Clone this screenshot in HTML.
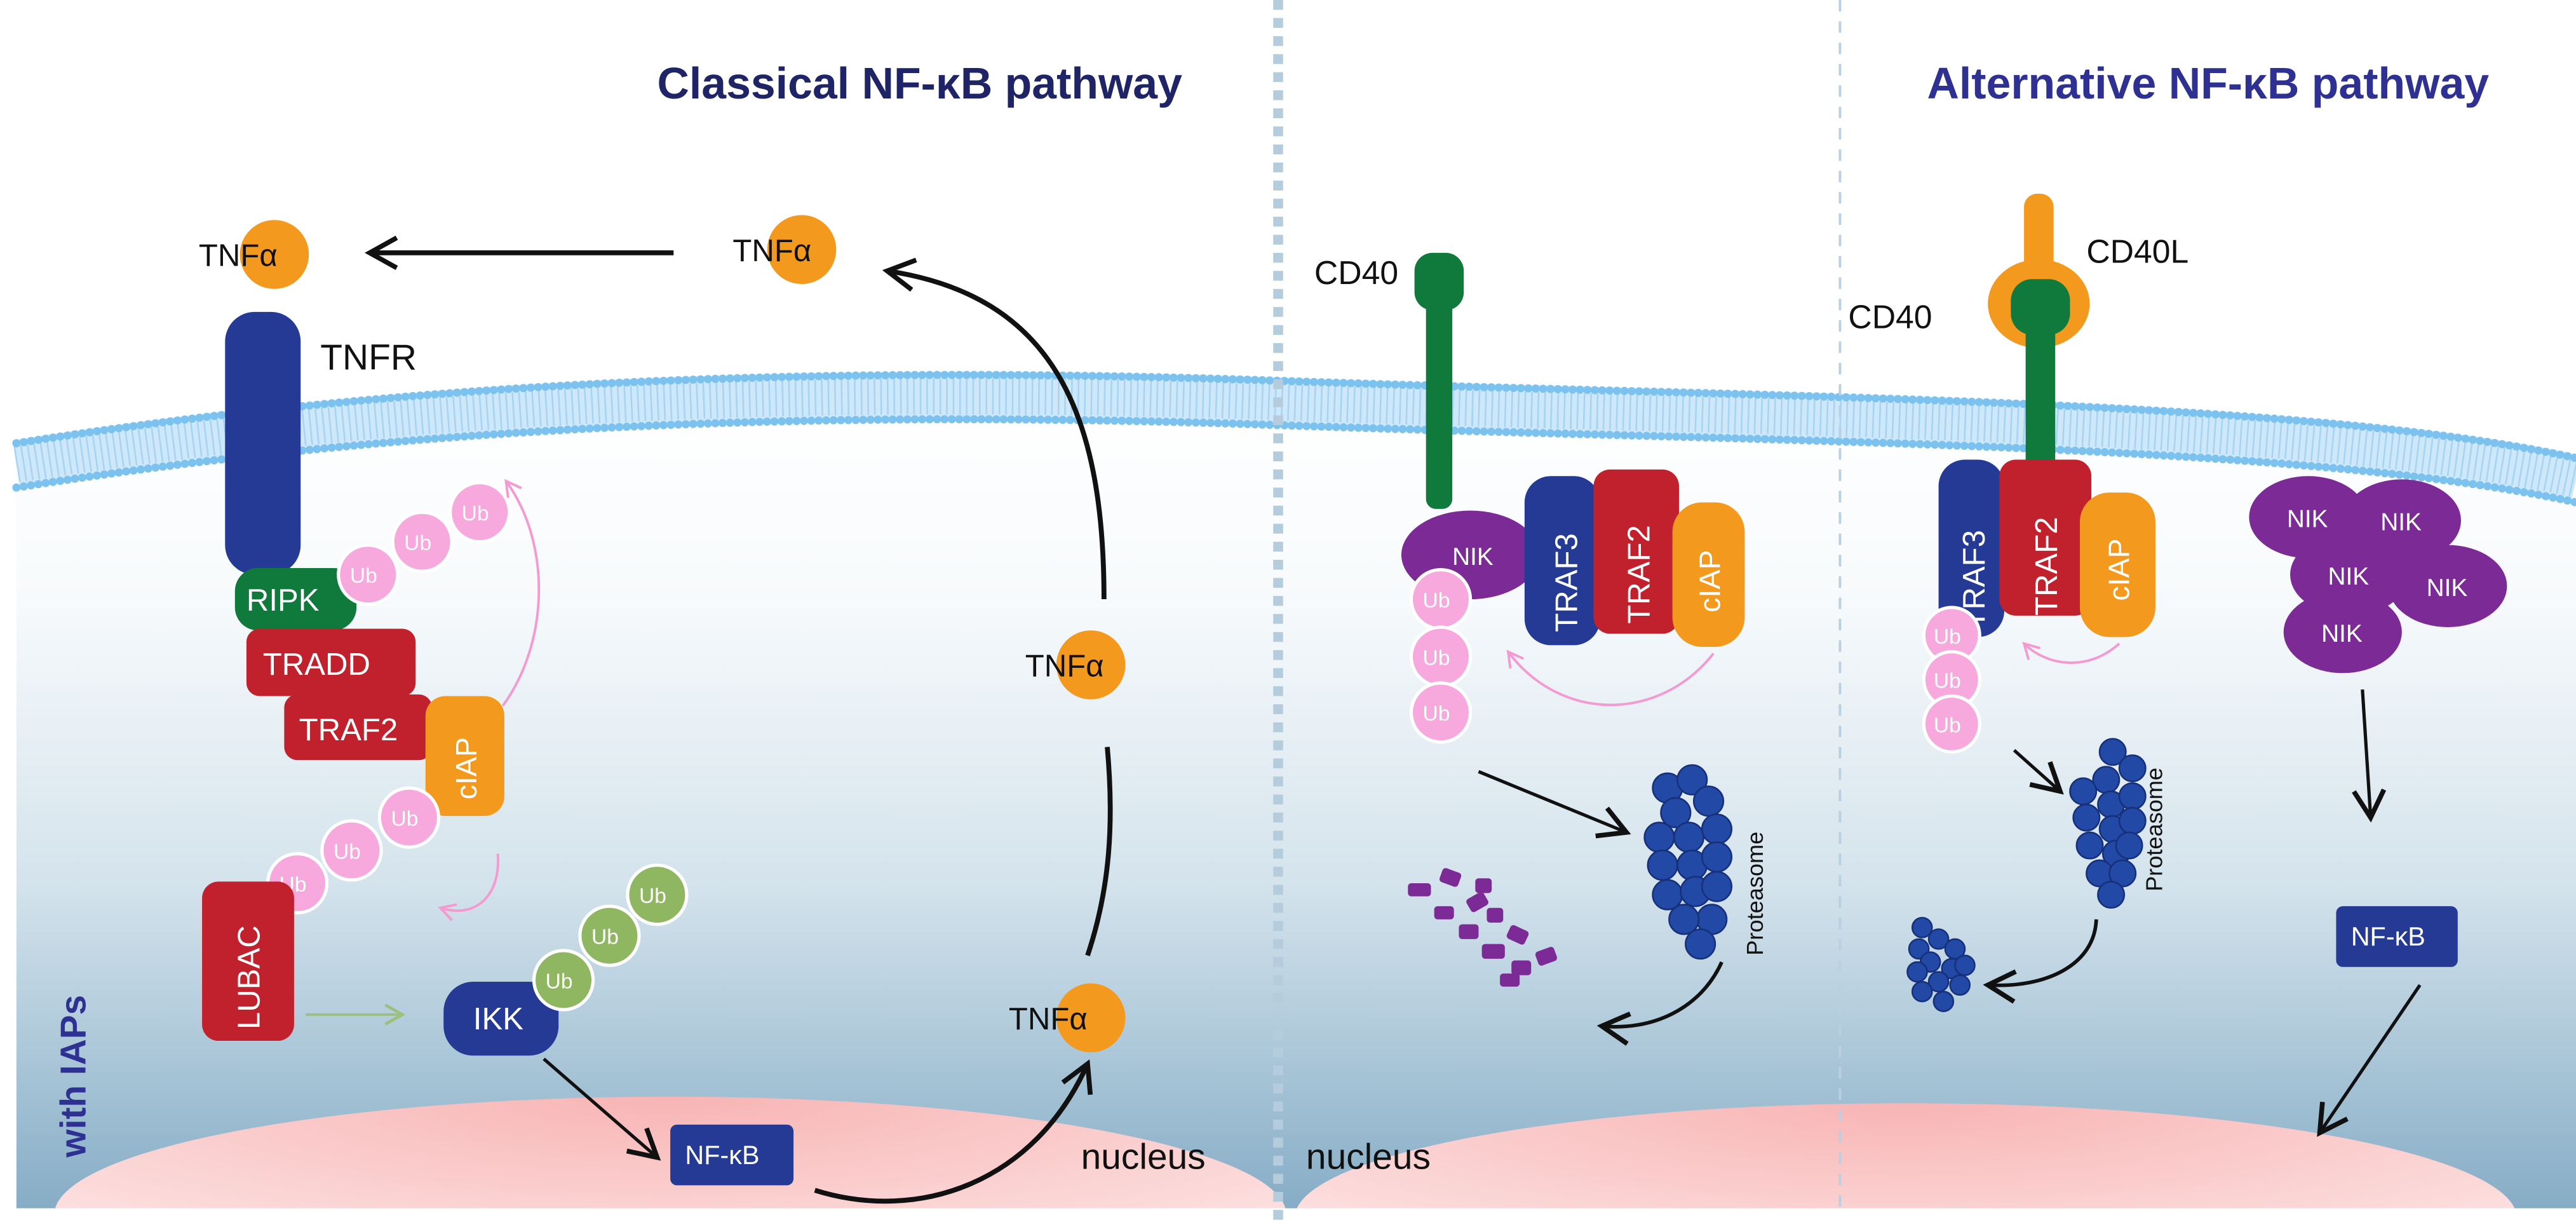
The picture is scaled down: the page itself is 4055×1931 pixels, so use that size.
<!DOCTYPE html>
<html><head><meta charset="utf-8"><meta name="viewport" content="width=4055"><style>
html,body{margin:0;padding:0;background:#fff;width:4055px;height:1931px;overflow:hidden;position:relative;}
svg{display:block;position:absolute;left:0;top:0;}
text{font-family:"Liberation Sans",sans-serif;}
</style></head><body>
<svg width="4055" height="1930" viewBox="0 0 1568 747" preserveAspectRatio="none" xmlns="http://www.w3.org/2000/svg" overflow="hidden">
<defs>
<linearGradient id="bg" x1="0" y1="0" x2="0" y2="1">
<stop offset="0" stop-color="#ffffff"/><stop offset="0.25" stop-color="#f7fafc"/><stop offset="0.6" stop-color="#d4e3ec"/><stop offset="1" stop-color="#86adc6"/></linearGradient>
<radialGradient id="nuc" cx="0.5" cy="0" r="0.8"><stop offset="0" stop-color="#f8b4b4"/><stop offset="1" stop-color="#fde6e6"/></radialGradient>
<marker id="ahb" viewBox="0 0 12 12" refX="10" refY="6" markerWidth="22" markerHeight="22" orient="auto" markerUnits="userSpaceOnUse"><path d="M1,1 L10,6 L1,11" fill="none" stroke="#111" stroke-width="1.6"/></marker>
<marker id="ahp" viewBox="0 0 12 12" refX="10" refY="6" markerWidth="12" markerHeight="12" orient="auto" markerUnits="userSpaceOnUse"><path d="M1,1 L10,6 L1,11" fill="none" stroke="#f49ad0" stroke-width="1.5"/></marker>
<marker id="ahg" viewBox="0 0 12 12" refX="10" refY="6" markerWidth="14" markerHeight="14" orient="auto" markerUnits="userSpaceOnUse"><path d="M1,1 L10,6 L1,11" fill="none" stroke="#9cc07a" stroke-width="1.5"/></marker>
</defs>
<path d="M10,283 C250,245 500,235 780,245 S1400,255 1568,292 L1568,736 L10,736 Z" fill="url(#bg)"/>
<ellipse cx="408" cy="740" rx="375" ry="72" fill="url(#nuc)"/>
<ellipse cx="1160" cy="742" rx="372" ry="70" fill="url(#nuc)"/>
<rect x="0" y="736" width="1568" height="11" fill="#fff"/>
<g fill="none">
<path d="M10,283 C250,245 500,235 780,245 S1400,255 1568,292" stroke="#cfe8f9" stroke-width="30"/>
<path d="M10,283 C250,245 500,235 780,245 S1400,255 1568,292" stroke="#9ad0f3" stroke-width="22" stroke-dasharray="1 3" opacity="0.8"/>
<path d="M10,270 C250,232 500,222 780,232 S1400,242 1568,279" stroke="#7cc2ee" stroke-width="5" stroke-linecap="round" stroke-dasharray="0 4.5"/>
<path d="M10,297 C250,259 500,249 780,259 S1400,269 1568,306" stroke="#7cc2ee" stroke-width="5" stroke-linecap="round" stroke-dasharray="0 4.5"/>
</g>
<line x1="778" y1="0" x2="778" y2="746" stroke="#b5ccdd" stroke-width="6" stroke-dasharray="6 5"/>
<line x1="1120" y1="0" x2="1120" y2="735" stroke="#b8d0e0" stroke-width="1.5" stroke-dasharray="7 6"/>
<text x="400" y="60" font-size="27" font-weight="bold" fill="#1f2466">Classical NF-κB pathway</text>
<text x="1173" y="60" font-size="27" font-weight="bold" fill="#2e3192">Alternative NF-κB pathway</text>
<text transform="translate(52,705) rotate(-90)" font-size="22" font-weight="bold" fill="#2e3192">with IAPs</text>
<text x="658" y="712" font-size="22" fill="#111">nucleus</text>
<text x="795" y="712" font-size="22" fill="#111">nucleus</text>

<g font-size="19" fill="#111">
<circle cx="167" cy="155" r="21" fill="#f39a1e"/><text x="121" y="162">TNFα</text>
<circle cx="488" cy="152" r="21" fill="#f39a1e"/><text x="446" y="159">TNFα</text>
<circle cx="664" cy="405" r="21" fill="#f39a1e"/><text x="624" y="412">TNFα</text>
<circle cx="664" cy="620" r="21" fill="#f39a1e"/><text x="614" y="627">TNFα</text>
</g>
<line x1="410" y1="154" x2="225" y2="154" stroke="#111" stroke-width="3" marker-end="url(#ahb)"/>
<path d="M672,365 C672,250 640,180 540,165" fill="none" stroke="#111" stroke-width="3" marker-end="url(#ahb)"/>
<path d="M674,455 C678,500 676,540 662,582" fill="none" stroke="#111" stroke-width="3"/>
<path d="M496,725 C560,745 630,720 662,648" fill="none" stroke="#111" stroke-width="3" marker-end="url(#ahb)"/>
<line x1="331" y1="645" x2="400" y2="705" stroke="#111" stroke-width="2" marker-end="url(#ahb)"/>

<rect x="137" y="190" width="46" height="160" rx="18" fill="#243a94"/>
<text x="195" y="225" font-size="22" fill="#111">TNFR</text>
<rect x="143" y="346" width="74" height="38" rx="14" fill="#0f7a3c"/>
<text x="150" y="372" font-size="19" fill="#fff">RIPK</text>
<rect x="150" y="383" width="103" height="41" rx="8" fill="#c1212d"/>
<text x="160" y="411" font-size="19" fill="#fff">TRADD</text>
<rect x="173" y="423" width="90" height="40" rx="8" fill="#c1212d"/>
<text x="182" y="451" font-size="19" fill="#fff">TRAF2</text>
<rect x="259" y="424" width="48" height="73" rx="12" fill="#f39a1e"/>
<text transform="translate(290,487) rotate(-90)" font-size="18" fill="#fff">cIAP</text>
<g fill="#f7a8dc" stroke="#fff" stroke-width="2">
<circle cx="224" cy="350" r="18"/><circle cx="257" cy="330" r="18"/><circle cx="292" cy="312" r="18"/>
<circle cx="249" cy="498" r="18"/><circle cx="214" cy="518" r="18"/><circle cx="181" cy="538" r="18"/>
</g>
<g font-size="13" fill="#fff">
<text x="213" y="355">Ub</text><text x="246" y="335">Ub</text><text x="281" y="317">Ub</text>
<text x="238" y="503">Ub</text><text x="203" y="523">Ub</text><text x="170" y="543">Ub</text>
</g>
<path d="M306,430 C335,390 335,330 308,293" fill="none" stroke="#f49ad0" stroke-width="1.5" marker-end="url(#ahp)"/>
<path d="M303,520 C305,545 290,560 268,553" fill="none" stroke="#f49ad0" stroke-width="1.5" marker-end="url(#ahp)"/>
<rect x="123" y="537" width="56" height="97" rx="10" fill="#c1212d"/>
<text transform="translate(158,627) rotate(-90)" font-size="19" fill="#fff">LUBAC</text>
<line x1="186" y1="618" x2="245" y2="618" stroke="#9cc07a" stroke-width="1.5" marker-end="url(#ahg)"/>
<rect x="270" y="598" width="70" height="45" rx="18" fill="#243a94"/>
<text x="288" y="627" font-size="19" fill="#fff">IKK</text>
<g fill="#8fb661" stroke="#fff" stroke-width="2">
<circle cx="343" cy="597" r="18"/><circle cx="371" cy="570" r="18"/><circle cx="400" cy="545" r="18"/>
</g>
<g font-size="13" fill="#fff"><text x="332" y="602">Ub</text><text x="360" y="575">Ub</text><text x="389" y="550">Ub</text></g>
<rect x="408" y="685" width="75" height="37" rx="4" fill="#243a94"/>
<text x="417" y="709" font-size="16" fill="#fff">NF-κB</text>

<rect x="868" y="160" width="16" height="150" rx="6" fill="#0f7a3c"/>
<rect x="861" y="154" width="30" height="35" rx="11" fill="#0f7a3c"/>
<text x="800" y="173" font-size="20" fill="#111">CD40</text>
<ellipse cx="895" cy="338" rx="42" ry="27" fill="#7b2a96"/>
<text x="884" y="344" font-size="15" fill="#fff">NIK</text>
<rect x="928" y="290" width="46" height="103" rx="16" fill="#243a94"/>
<text transform="translate(960,385) rotate(-90)" font-size="19" fill="#fff">TRAF3</text>
<rect x="970" y="286" width="52" height="100" rx="10" fill="#c1212d"/>
<text transform="translate(1004,380) rotate(-90)" font-size="19" fill="#fff">TRAF2</text>
<rect x="1018" y="306" width="44" height="88" rx="18" fill="#f39a1e"/>
<text transform="translate(1047,373) rotate(-90)" font-size="18" fill="#fff">cIAP</text>
<path d="M1043,398 C1010,440 950,440 918,397" fill="none" stroke="#f49ad0" stroke-width="1.5" marker-end="url(#ahp)"/>
<g fill="#f7a8dc" stroke="#fff" stroke-width="2"><circle cx="877" cy="365" r="18"/><circle cx="877" cy="400" r="18"/><circle cx="877" cy="434" r="18"/></g>
<g font-size="13" fill="#fff"><text x="866" y="370">Ub</text><text x="866" y="405">Ub</text><text x="866" y="439">Ub</text></g>
<line x1="900" y1="470" x2="990" y2="507" stroke="#111" stroke-width="2" marker-end="url(#ahb)"/>
<g fill="#2349a6" stroke="#17307a" stroke-width="1">
<circle cx="1015" cy="480" r="9"/><circle cx="1030" cy="475" r="9"/><circle cx="1040" cy="488" r="9"/><circle cx="1020" cy="495" r="9"/>
<circle cx="1010" cy="510" r="9"/><circle cx="1028" cy="510" r="9"/><circle cx="1045" cy="505" r="9"/><circle cx="1012" cy="527" r="9"/>
<circle cx="1030" cy="527" r="9"/><circle cx="1045" cy="522" r="9"/><circle cx="1015" cy="545" r="9"/><circle cx="1032" cy="543" r="9"/>
<circle cx="1042" cy="560" r="9"/><circle cx="1025" cy="560" r="9"/><circle cx="1035" cy="575" r="9"/><circle cx="1045" cy="540" r="9"/>
</g>
<text transform="translate(1073,582) rotate(-90)" font-size="14" fill="#111">Proteasome</text>
<path d="M1048,586 C1035,615 1005,628 975,625" fill="none" stroke="#111" stroke-width="2.2" marker-end="url(#ahb)"/>
<g fill="#7b2a96">
<rect x="857" y="538" width="14" height="8" rx="2"/><rect x="877" y="530" width="12" height="9" rx="2" transform="rotate(20 883 534)"/>
<rect x="873" y="552" width="12" height="8" rx="2"/><rect x="893" y="545" width="12" height="9" rx="2" transform="rotate(-30 899 549)"/>
<rect x="888" y="563" width="12" height="9" rx="2"/><rect x="898" y="535" width="10" height="9" rx="2"/>
<rect x="902" y="575" width="14" height="9" rx="2"/><rect x="918" y="565" width="12" height="9" rx="2" transform="rotate(25 924 569)"/>
<rect x="920" y="585" width="12" height="9" rx="2"/><rect x="935" y="578" width="12" height="9" rx="2" transform="rotate(-20 941 582)"/>
<rect x="913" y="593" width="12" height="8" rx="2"/><rect x="905" y="553" width="10" height="9" rx="2"/>
</g>

<rect x="1232" y="118" width="18" height="60" rx="8" fill="#f39a1e"/>
<ellipse cx="1241" cy="185" rx="31" ry="27" fill="#f39a1e"/>
<text x="1270" y="160" font-size="20" fill="#111">CD40L</text>
<rect x="1233" y="185" width="18" height="130" rx="6" fill="#0f7a3c"/>
<rect x="1224" y="170" width="36" height="34" rx="13" fill="#0f7a3c"/>
<text x="1125" y="200" font-size="20" fill="#111">CD40</text>
<rect x="1180" y="280" width="40" height="108" rx="16" fill="#243a94"/>
<text transform="translate(1208,383) rotate(-90)" font-size="19" fill="#fff">TRAF3</text>
<rect x="1217" y="280" width="56" height="95" rx="10" fill="#c1212d"/>
<text transform="translate(1252,375) rotate(-90)" font-size="19" fill="#fff">TRAF2</text>
<rect x="1266" y="300" width="46" height="88" rx="18" fill="#f39a1e"/>
<text transform="translate(1296,366) rotate(-90)" font-size="18" fill="#fff">cIAP</text>
<path d="M1290,392 C1270,410 1245,405 1232,392" fill="none" stroke="#f49ad0" stroke-width="1.5" marker-end="url(#ahp)"/>
<g fill="#f7a8dc" stroke="#fff" stroke-width="2"><circle cx="1188" cy="387" r="17"/><circle cx="1188" cy="414" r="17"/><circle cx="1188" cy="441" r="17"/></g>
<g font-size="13" fill="#fff"><text x="1177" y="392">Ub</text><text x="1177" y="419">Ub</text><text x="1177" y="446">Ub</text></g>
<line x1="1226" y1="457" x2="1254" y2="482" stroke="#111" stroke-width="2" marker-end="url(#ahb)"/>
<g fill="#2349a6" stroke="#17307a" stroke-width="1">
<circle cx="1286" cy="458" r="8"/><circle cx="1298" cy="468" r="8"/><circle cx="1282" cy="475" r="8"/><circle cx="1268" cy="482" r="8"/>
<circle cx="1285" cy="490" r="8"/><circle cx="1298" cy="485" r="8"/><circle cx="1270" cy="498" r="8"/><circle cx="1286" cy="505" r="8"/>
<circle cx="1298" cy="500" r="8"/><circle cx="1272" cy="515" r="8"/><circle cx="1288" cy="520" r="8"/><circle cx="1296" cy="515" r="8"/>
<circle cx="1278" cy="532" r="8"/><circle cx="1292" cy="532" r="8"/><circle cx="1285" cy="545" r="8"/>
</g>
<text transform="translate(1316,543) rotate(-90)" font-size="14" fill="#111">Proteasome</text>
<path d="M1276,560 C1275,588 1245,602 1210,600" fill="none" stroke="#111" stroke-width="2.2" marker-end="url(#ahb)"/>
<g fill="#2349a6" stroke="#17307a" stroke-width="1">
<circle cx="1170" cy="565" r="6"/><circle cx="1180" cy="572" r="6"/><circle cx="1168" cy="578" r="6"/><circle cx="1190" cy="578" r="6"/>
<circle cx="1175" cy="586" r="6"/><circle cx="1188" cy="590" r="6"/><circle cx="1167" cy="592" r="6"/><circle cx="1180" cy="598" r="6"/>
<circle cx="1193" cy="600" r="6"/><circle cx="1170" cy="604" r="6"/><circle cx="1183" cy="610" r="6"/><circle cx="1196" cy="588" r="6"/>
</g>
<g fill="#7b2a96">
<ellipse cx="1405" cy="315" rx="36" ry="25"/><ellipse cx="1462" cy="317" rx="36" ry="25"/>
<ellipse cx="1430" cy="350" rx="36" ry="25"/><ellipse cx="1490" cy="357" rx="36" ry="25"/>
<ellipse cx="1426" cy="385" rx="36" ry="25"/>
</g>
<g font-size="15" fill="#fff">
<text x="1392" y="321">NIK</text><text x="1449" y="323">NIK</text><text x="1417" y="356">NIK</text><text x="1477" y="363">NIK</text><text x="1413" y="391">NIK</text>
</g>
<line x1="1438" y1="420" x2="1443" y2="498" stroke="#111" stroke-width="2" marker-end="url(#ahb)"/>
<rect x="1422" y="552" width="74" height="37" rx="4" fill="#243a94"/>
<text x="1431" y="576" font-size="16" fill="#fff">NF-κB</text>
<line x1="1473" y1="600" x2="1412" y2="690" stroke="#111" stroke-width="2" marker-end="url(#ahb)"/>
</svg>
</body></html>
